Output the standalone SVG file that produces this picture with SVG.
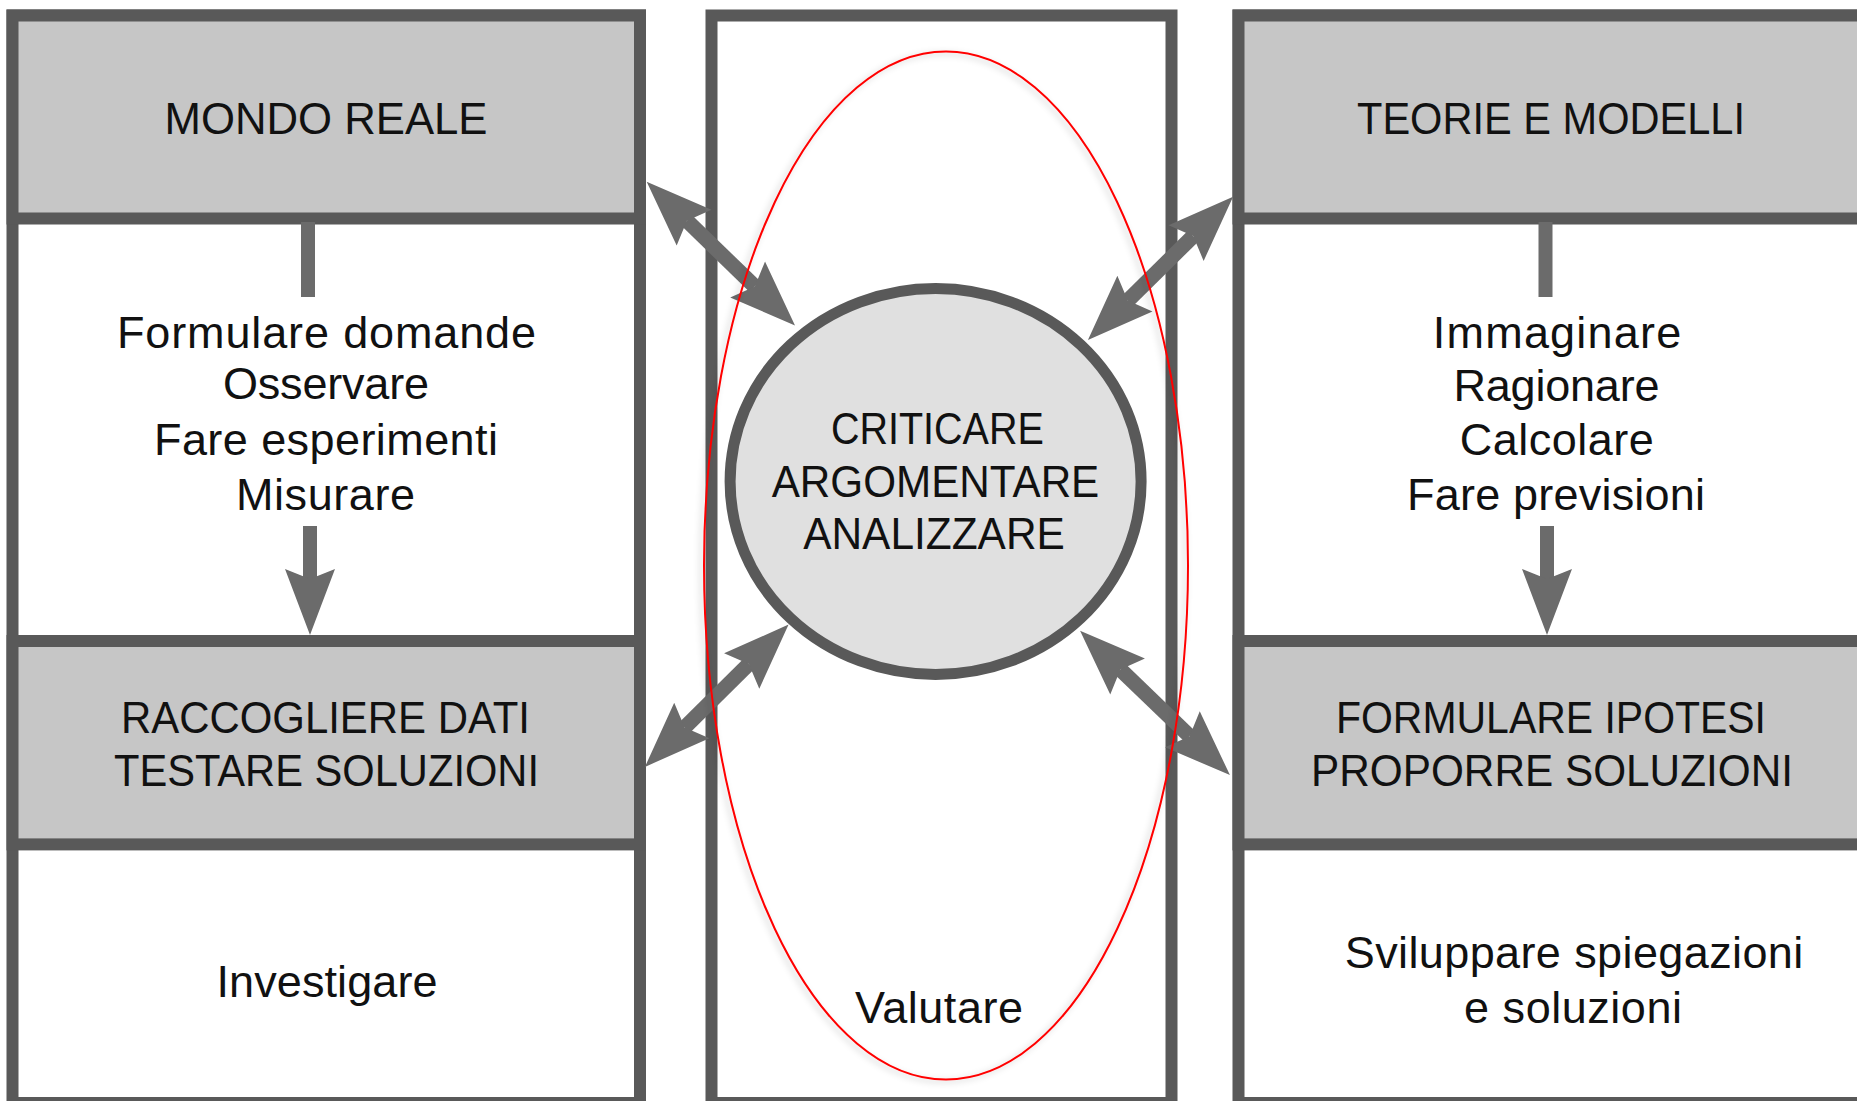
<svg xmlns="http://www.w3.org/2000/svg" width="1857" height="1101" viewBox="0 0 1857 1101">
<style>
  .frame{fill:none;stroke:#595959;stroke-width:12}
  .col{fill:#ffffff;stroke:#595959;stroke-width:12}
  .hdr{fill:#c6c6c6;stroke:#595959;stroke-width:12}
  .t{font-family:"Liberation Sans",Arial,sans-serif;font-size:45px;fill:#111111;text-anchor:middle}
  .stub{stroke:#6b6b6b;stroke-width:14;fill:none}
  .varr{stroke:#6b6b6b;stroke-width:14;fill:none;marker-end:url(#head)}
  .darr{stroke:#6b6b6b;stroke-width:15;fill:none;marker-start:url(#head);marker-end:url(#head)}
</style>
<defs>
  <marker id="head" markerUnits="userSpaceOnUse" orient="auto-start-reverse" viewBox="-12 -27 70 54" markerWidth="70" markerHeight="54" refX="0" refY="0" overflow="visible">
    <path d="M56,0 L-10,-25 L0,0 L-10,25 Z" fill="#6b6b6b"/>
  </marker>
  <filter id="sh" x="-10%" y="-10%" width="120%" height="120%">
    <feDropShadow dx="-3" dy="2" stdDeviation="3" flood-color="#000000" flood-opacity="0.22"/>
  </filter>
</defs>
<rect x="0" y="0" width="1857" height="1101" fill="#ffffff"/>

<g id="col-left">
  <rect class="col" x="12.5" y="15.5" width="627.5" height="1087.5"/>
  <g id="mondo-reale">
    <rect class="hdr" x="12.5" y="15.5" width="627.5" height="203"/>
    <text class="t" x="326" y="134" textLength="323" lengthAdjust="spacingAndGlyphs">MONDO REALE</text>
  </g>
  <g id="azioni-mondo">
    <text class="t" x="326.5" y="348" textLength="419">Formulare domande</text>
    <text class="t" x="326" y="399" textLength="206">Osservare</text>
    <text class="t" x="326" y="455" textLength="344">Fare esperimenti</text>
    <text class="t" x="325.5" y="509.5" textLength="179">Misurare</text>
  </g>
  <g id="raccogliere-dati">
    <rect class="hdr" x="12.5" y="641" width="627.5" height="203.4"/>
    <text class="t" x="325.5" y="733" textLength="409" lengthAdjust="spacingAndGlyphs">RACCOGLIERE DATI</text>
    <text class="t" x="326.5" y="786" textLength="425" lengthAdjust="spacingAndGlyphs">TESTARE SOLUZIONI</text>
  </g>
  <g id="investigare">
    <text class="t" x="327" y="996.7" textLength="221">Investigare</text>
  </g>
</g>

<g id="col-center">
  <rect class="col" x="711.5" y="15.5" width="460" height="1087.5"/>
  <g id="valutare">
    <text class="t" x="939" y="1022.6" textLength="168">Valutare</text>
  </g>
</g>

<g id="col-right">
  <rect class="col" x="1238.5" y="15.5" width="627.5" height="1087.5"/>
  <g id="teorie-modelli">
    <rect class="hdr" x="1238.5" y="15.5" width="627.5" height="203"/>
    <text class="t" x="1551" y="134" textLength="388" lengthAdjust="spacingAndGlyphs">TEORIE E MODELLI</text>
  </g>
  <g id="azioni-teorie">
    <text class="t" x="1557" y="347.6" textLength="248.5">Immaginare</text>
    <text class="t" x="1556.5" y="401" textLength="206">Ragionare</text>
    <text class="t" x="1556.7" y="454.7" textLength="194">Calcolare</text>
    <text class="t" x="1556" y="510" textLength="298">Fare previsioni</text>
  </g>
  <g id="formulare-ipotesi">
    <rect class="hdr" x="1238.5" y="641" width="627.5" height="203.4"/>
    <text class="t" x="1551" y="733" textLength="430" lengthAdjust="spacingAndGlyphs">FORMULARE IPOTESI</text>
    <text class="t" x="1552" y="786" textLength="482" lengthAdjust="spacingAndGlyphs">PROPORRE SOLUZIONI</text>
  </g>
  <g id="sviluppare">
    <text class="t" x="1574" y="968" textLength="458.5">Sviluppare spiegazioni</text>
    <text class="t" x="1573" y="1022.7" textLength="218">e soluzioni</text>
  </g>
</g>

<g id="connectors">
  <line class="stub" x1="308" y1="222" x2="308" y2="297"/>
  <line class="stub" x1="1545.5" y1="222" x2="1545.5" y2="297"/>
  <line class="varr" x1="310" y1="526" x2="310" y2="579"/>
  <line class="varr" x1="1547" y1="526" x2="1547" y2="579"/>
  <line class="darr" x1="686.9" y1="220.7" x2="754.8" y2="286.5"/>
  <line class="darr" x1="1127.8" y1="300.6" x2="1193.2" y2="236.1"/>
  <line class="darr" x1="684.7" y1="727.5" x2="748.8" y2="664"/>
  <line class="darr" x1="1120.4" y1="669.5" x2="1189.6" y2="736.2"/>
</g>

<g id="centro">
  <ellipse cx="935.6" cy="481.5" rx="205.5" ry="193" fill="#e0e0e0" stroke="#595959" stroke-width="11"/>
  <text class="t" x="937.4" y="444" textLength="213" lengthAdjust="spacingAndGlyphs">CRITICARE</text>
  <text class="t" x="935.5" y="497.3" textLength="327.6" lengthAdjust="spacingAndGlyphs">ARGOMENTARE</text>
  <text class="t" x="934" y="549.3" textLength="261.7" lengthAdjust="spacingAndGlyphs">ANALIZZARE</text>
</g>

<g id="evidenziazione">
  <ellipse cx="946" cy="565.5" rx="242" ry="514" fill="none" stroke="#ff0000" stroke-width="2" filter="url(#sh)"/>
</g>
</svg>
